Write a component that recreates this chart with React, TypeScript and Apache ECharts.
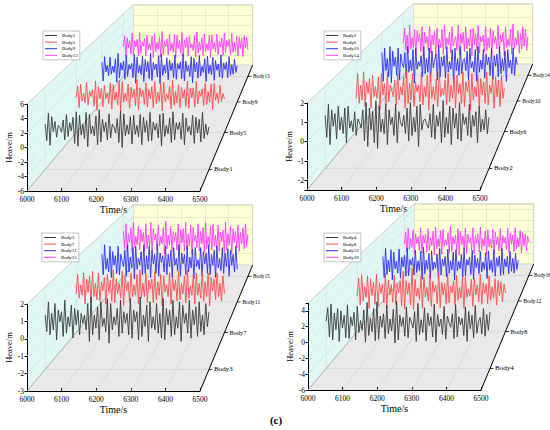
import React, { useEffect, useRef } from "react";
import * as echarts from "echarts";

// ---------- data ----------
const TIME_START = 6000;
const TIME_STEP = 5;
const TIME_TICKS = [6000, 6100, 6200, 6300, 6400, 6500];

const BODY1 = [
  0.6, -1.8, 2.2, -2.5, 1.7, -0.5, 1.0, -1.3, 0.4, 0.1,
  -0.6, 1.2, -1.7, 2.0, -1.2, 0.8, -0.4, 1.6, -2.2, 2.4,
  -2.6, 1.9, -1.0, 0.6, -1.5, 2.3, -2.7, 2.0, -0.8, 0.3,
  -1.1, 1.8, -2.4, 2.7, -2.0, 1.3, -0.5, 0.9, -1.7, 2.1,
  -1.4, 0.6, 0.2, -0.7, 1.4, -2.1, 2.5, -2.8, 2.1, -1.1,
  0.5, -0.9, 1.7, -2.3, 1.9, -0.9, 0.4, -1.3, 2.0, -2.4,
  1.6, -0.6, 1.1, -1.9, 2.3, -1.8, 0.9, -0.3, 0.7, -1.4,
  2.0, -2.6, 2.2, -1.2, 0.4, -0.8, 1.5, -2.1, 2.4, -1.7,
  0.8, -0.2, 0.9, -1.6, 2.2, -2.4, 1.5, -0.5, 0.3, -1.0,
  1.9, -2.2, 1.6, -0.7, 1.3, -2.0, 2.3, -1.5, 0.6, -1.0,
  0.2,
];
const BODY5 = [
  -0.4, 1.5, -2.0, 1.8, -0.9, 0.3, -1.2, 2.1, -1.6, 0.7,
  -0.2, 0.9, -1.8, 2.3, -2.4, 1.4, -0.6, 1.1, -1.9, 1.6,
  -0.5, 0.4, -1.3, 2.0, -2.2, 1.7, -0.8, 0.5, -1.6, 2.4,
  -2.6, 2.2, -1.1, 0.3, -0.9, 1.8, -2.1, 1.3, -0.4, 1.0,
  -1.7, 2.5, -2.3, 1.2, -0.3, 0.8, -1.5, 2.0, -1.9, 0.9,
  -0.6, 1.4, -2.0, 2.2, -1.3, 0.5, -1.0, 1.9, -2.5, 2.1,
  -1.0, 0.2, -0.7, 1.5, -2.2, 2.4, -1.6, 0.6, -1.2, 1.7,
  -2.0, 1.3, -0.5, 0.9, -1.8, 2.3, -2.1, 1.1, -0.4, 1.2,
  -1.9, 2.2, -1.4, 0.7, -0.2, 1.0, -1.7, 2.0, -1.5, 0.6,
  -1.1, 1.8, -2.3, 1.9, -0.8, 0.4, -1.3, 1.6, -1.0, 0.3,
  -0.6,
];
const BODY9 = [
  1.0, -2.3, 2.0, -0.7, 0.5, -1.4, 1.9, -1.1, 0.3, -0.8,
  1.6, -2.5, 2.6, -1.8, 0.9, -0.4, 1.2, -2.0, 2.3, -1.5,
  0.6, -0.2, 0.8, -1.7, 2.4, -2.7, 1.9, -0.9, 0.4, -1.2,
  2.1, -2.4, 1.5, -0.6, 1.1, -1.9, 2.6, -2.2, 1.0, -0.3,
  0.7, -1.6, 2.2, -2.8, 2.4, -1.3, 0.5, -0.9, 1.8, -2.1,
  1.4, -0.5, 0.9, -1.7, 2.3, -2.0, 0.8, -0.2, 1.1, -1.9,
  2.5, -2.3, 1.2, -0.6, 0.4, -1.5, 2.0, -2.6, 1.7, -0.7,
  1.0, -1.8, 2.2, -1.4, 0.3, -0.8, 1.6, -2.4, 2.1, -1.0,
  0.5, -1.2, 1.9, -2.2, 1.3, -0.4, 0.7, -1.6, 2.3, -1.8,
  0.9, -0.3, 1.0, -1.7, 2.0, -1.3, 0.6, -1.1, 1.5, -0.8,
  0.4,
];
const BODY13 = [
  -0.3, 1.8, -2.2, 1.4, -0.5, 0.9, -1.7, 2.3, -1.9, 0.8,
  -0.4, 1.1, -2.0, 2.4, -1.6, 0.6, -0.2, 1.3, -2.1, 1.9,
  -0.9, 0.3, -1.0, 1.7, -2.4, 2.2, -1.3, 0.5, -0.8, 1.6,
  -2.3, 2.6, -1.8, 0.7, -0.3, 1.2, -1.9, 2.1, -1.1, 0.4,
  -1.4, 2.0, -2.5, 1.9, -0.7, 0.9, -1.6, 2.4, -2.2, 1.0,
  -0.5, 1.5, -2.1, 1.7, -0.6, 0.2, -1.1, 1.8, -2.3, 2.5,
  -1.5, 0.6, -0.9, 1.4, -2.0, 2.2, -1.2, 0.3, -1.0, 1.9,
  -2.4, 2.0, -0.8, 0.5, -1.3, 2.1, -1.8, 0.7, -0.4, 1.3,
  -2.0, 2.3, -1.5, 0.9, -0.2, 1.1, -1.9, 2.2, -1.4, 0.5,
  -1.2, 1.7, -2.1, 1.6, -0.7, 1.4, -2.2, 1.8, -0.6, 1.5,
  -0.9,
];
const BODY2 = [
  0.4, -0.8, 1.0, -1.2, 0.7, -0.2, 0.5, -0.9, 0.9, -0.4,
  0.3, -0.6, 0.8, -1.1, 0.9, -0.3, 0.1, -0.5, 0.6, -0.7,
  0.2, 0.0, -0.3, 0.7, -1.0, 1.1, -1.3, 0.8, -0.4, 0.6,
  -1.1, 1.2, -1.4, 0.9, -0.5, 0.2, -0.6, 1.0, -1.2, 0.7,
  -0.1, 0.3, -0.7, 1.0, -1.1, 0.6, 0.0, -0.2, 0.4, -0.6,
  0.8, -1.0, 1.1, -0.7, 0.3, -0.5, 0.9, -1.3, 1.0, -0.4,
  0.1, 0.2, -0.1, -0.3, 0.5, -0.8, 1.0, -0.9, 0.4, -0.2,
  0.6, -1.1, 1.2, -0.8, 0.3, -0.6, 0.9, -1.2, 0.8, -0.3,
  0.5, -0.9, 1.1, -1.0, 0.5, -0.1, 0.3, -0.7, 1.0, -0.8,
  0.4, -0.2, 0.6, -1.1, 0.9, -0.5, 0.2, -0.4, 0.7, -0.6,
  0.3,
];
const BODY6 = [
  -0.5, 1.0, -0.8, 0.3, -0.6, 1.1, -1.0, 0.5, -0.2, 0.7,
  -1.1, 0.9, -0.4, 0.2, -0.5, 0.8, -1.2, 1.0, -0.3, 0.4,
  -0.9, 1.1, -0.7, 0.3, 0.0, -0.4, 0.6, -0.9, 1.0, -0.6,
  0.2, -0.3, 0.8, -1.1, 1.2, -0.8, 0.4, -0.6, 1.0, -1.0,
  0.5, -0.1, 0.3, -0.7, 1.1, -0.9, 0.2, -0.4, 0.9, -1.2,
  1.0, -0.5, 0.2, -0.6, 0.7, -1.0, 1.1, -0.4, 0.1, -0.3,
  0.6, -0.9, 1.0, -0.7, 0.3, -0.5, 0.8, -1.1, 0.9, -0.2,
  0.4, -0.8, 1.1, -1.0, 0.5, -0.1, 0.6, -1.2, 1.0, -0.6,
  0.2, -0.4, 0.9, -1.0, 0.7, -0.3, 0.5, -0.8, 1.1, -0.9,
  0.3, -0.2, 0.7, -1.1, 0.8, -0.4, 0.6, -1.0, 0.9, -0.5,
  0.1,
];
const BODY10 = [
  0.7, -1.2, 1.0, -0.5, 0.3, -0.9, 1.1, -1.3, 0.8, -0.2,
  0.4, -0.8, 1.0, -1.1, 0.6, 0.0, -0.3, 0.7, -1.0, 1.1,
  -0.6, 0.2, -0.5, 0.9, -1.3, 1.0, -0.4, 0.1, -0.2, 0.5,
  -0.9, 1.1, -0.7, 0.3, -0.6, 1.0, -1.2, 0.8, -0.3, 0.2,
  0.6, -1.1, 1.2, -0.9, 0.4, -0.2, 0.5, -1.0, 1.1, -0.6,
  0.1, -0.4, 0.9, -1.3, 1.0, -0.5, 0.3, -0.8, 1.1, -0.7,
  0.2, 0.3, -0.5, 0.8, -1.1, 1.0, -0.3, 0.1, -0.6, 0.9,
  -1.2, 1.1, -0.6, 0.2, -0.4, 0.9, -1.0, 0.6, -0.1, 0.4,
  -0.8, 1.0, -1.1, 0.5, -0.2, 0.6, -0.9, 1.1, -0.7, 0.3,
  -0.5, 0.8, -1.2, 0.9, -0.3, 0.2, -0.7, 1.0, -0.8, 0.4,
  -0.1,
];
const BODY14 = [
  -0.2, 0.9, -0.7, 0.4, -0.9, 1.1, -0.6, 0.2, -0.5, 0.8,
  -1.0, 0.7, -0.1, 0.5, -0.8, 1.0, -1.1, 0.6, -0.2, 0.3,
  -0.7, 1.0, -0.9, 0.4, -0.3, 0.7, -1.1, 0.9, -0.4, 0.1,
  -0.5, 0.8, -1.0, 1.1, -0.6, 0.2, -0.3, 0.6, -0.9, 1.0,
  -0.4, 0.0, 0.3, -0.7, 1.1, -1.0, 0.5, -0.2, 0.6, -0.8,
  1.0, -0.6, 0.2, -0.4, 0.8, -1.1, 0.9, -0.3, 0.5, -0.7,
  1.1, -0.9, 0.3, -0.1, 0.4, -0.8, 1.0, -0.7, 0.2, -0.5,
  0.9, -1.0, 0.7, -0.2, 0.3, -0.6, 1.1, -0.9, 0.4, -0.1,
  0.6, -1.1, 1.0, -0.5, 0.1, -0.4, 0.8, -1.0, 1.2, -0.6,
  0.2, -0.3, 0.7, -0.9, 0.5, -0.6, 1.0, -0.4, 0.8, -0.7,
  0.3,
];
const BODY3 = [
  0.3, -0.7, 1.1, -0.9, 0.4, -0.6, 1.0, -1.2, 0.6, -0.1,
  0.5, -1.0, 1.2, -0.8, 0.2, -0.4, 0.9, -1.1, 0.7, -0.3,
  0.6, -0.9, 0.4, -0.2, 0.3, -0.6, 1.0, -1.3, 1.4, -0.9,
  0.3, -0.5, 0.8, -1.2, 1.1, -0.4, 0.1, -0.7, 1.3, -1.4,
  1.0, -0.6, 0.2, -0.3, 0.7, -1.0, 1.2, -0.8, 0.5, -0.2,
  0.4, -0.9, 1.3, -1.1, 0.6, -0.1, 0.5, -1.2, 1.4, -1.0,
  0.3, -0.4, 0.9, -1.3, 1.1, -0.5, 0.2, -0.6, 1.0, -0.8,
  0.4, -1.1, 1.3, -1.2, 0.7, -0.3, 0.6, -1.0, 1.2, -0.9,
  0.2, -0.5, 1.1, -1.3, 0.9, -0.2, 0.4, -0.8, 1.2, -1.1,
  0.6, -0.3, 0.8, -1.0, 1.1, -0.7, 0.3, -0.9, 1.0, -0.4,
  0.5,
];
const BODY7 = [
  -0.4, 0.9, -0.7, 0.2, -0.5, 1.0, -1.1, 0.6, -0.3, 0.8,
  -1.0, 1.1, -0.6, 0.3, -0.8, 1.0, -0.9, 0.4, -0.2, 0.7,
  -1.1, 0.9, -0.3, 0.5, -0.9, 1.2, -1.0, 0.6, -0.4, 0.3,
  -0.7, 1.1, -1.2, 0.8, -0.2, 0.4, -0.9, 1.0, -0.6, 0.2,
  -0.5, 0.9, -1.1, 1.2, -0.7, 0.3, -0.6, 1.0, -1.0, 0.5,
  -0.1, 0.6, -1.0, 1.1, -0.8, 0.4, -0.5, 0.9, -1.2, 0.8,
  -0.3, 0.2, -0.6, 1.0, -1.1, 0.7, -0.2, 0.5, -0.9, 1.1,
  -0.8, 0.3, -0.4, 0.8, -1.0, 1.2, -0.7, 0.1, -0.5, 0.9,
  -1.1, 1.0, -0.5, 0.3, -0.7, 1.1, -0.9, 0.4, -0.6, 1.0,
  -1.2, 0.7, -0.2, 0.6, -0.8, 1.0, -0.6, 0.3, -0.9, 0.8,
  -0.4,
];
const BODY11 = [
  0.5, -1.0, 1.2, -0.6, 0.2, -0.8, 1.1, -1.2, 0.7, -0.3,
  0.4, -0.9, 1.1, -1.0, 0.5, 0.0, -0.4, 0.8, -1.1, 1.2,
  -0.8, 0.3, -0.5, 1.0, -1.3, 1.1, -0.6, 0.2, -0.3, 0.7,
  -1.0, 1.2, -0.9, 0.4, -0.6, 1.1, -1.2, 0.8, -0.2, 0.5,
  -0.9, 1.3, -1.1, 0.6, -0.1, 0.4, -0.8, 1.1, -1.0, 0.5,
  -0.4, 0.8, -1.2, 1.0, -0.3, 0.2, -0.7, 1.2, -1.1, 0.6,
  -0.2, 0.5, -1.0, 1.1, -0.8, 0.3, -0.5, 0.9, -1.3, 1.0,
  -0.4, 0.1, -0.6, 1.0, -1.1, 0.7, -0.2, 0.6, -0.9, 1.2,
  -1.0, 0.5, -0.3, 0.8, -1.2, 1.1, -0.5, 0.2, -0.7, 1.0,
  -0.9, 0.6, -0.4, 0.9, -1.1, 0.8, -0.3, 0.5, -0.8, 1.1,
  -0.6,
];
const BODY15 = [
  0.6, -0.8, 1.2, -1.0, 0.4, -0.3, 0.9, -1.1, 1.3, -0.7,
  0.2, -0.5, 1.0, -0.9, 0.7, -0.2, 0.5, -1.0, 1.2, -0.8,
  0.3, -0.6, 1.3, -1.1, 0.8, -0.1, 0.4, -0.9, 1.1, -0.6,
  0.2, -0.4, 0.9, -1.2, 1.4, -0.8, 0.3, -0.5, 1.0, -1.0,
  0.6, -0.2, 0.5, -0.9, 1.2, -1.1, 0.7, -0.3, 0.8, -1.0,
  1.3, -0.9, 0.4, -0.6, 1.1, -1.2, 0.9, -0.2, 0.3, -0.7,
  1.2, -1.0, 0.6, -0.4, 0.9, -1.1, 1.3, -0.8, 0.2, -0.5,
  1.0, -0.9, 1.2, -0.6, 0.3, -0.8, 1.1, -1.0, 0.5, -0.2,
  0.7, -1.1, 1.3, -0.9, 0.4, -0.5, 1.0, -1.2, 0.8, -0.3,
  0.6, -0.7, 1.1, -1.0, 0.5, -0.4, 0.9, -0.8, 1.2, -0.6,
  0.4,
];
const BODY4 = [
  0.3, 2.1, -1.8, 2.6, -2.2, 1.4, -0.8, 2.0, -2.4, 1.7,
  -0.6, 1.1, -1.9, 2.5, -2.0, 0.9, -0.3, 1.5, -2.2, 2.3,
  -1.2, 0.4, -0.9, 1.8, -2.5, 2.8, -1.6, 0.7, -1.1, 2.0,
  -2.3, 2.9, -2.1, 1.0, -0.5, 1.3, -2.0, 2.4, -1.4, 0.6,
  -1.0, 1.9, -2.6, 3.0, -2.2, 1.1, -0.4, 0.8, -1.7, 2.2,
  -1.9, 0.8, 0.2, -0.6, 1.6, -2.4, 2.7, -1.5, 0.5, -1.2,
  2.1, -2.3, 1.4, -0.3, 0.9, -1.8, 2.6, -2.5, 1.2, -0.4,
  0.6, -1.5, 2.3, -2.1, 1.0, 0.1, -0.5, 1.3, -2.0, 2.5,
  -1.8, 0.9, -0.2, 0.7, -1.6, 2.2, -2.4, 1.6, -0.7, 1.1,
  -1.9, 2.4, -1.3, 0.3, 0.8, -1.4, 2.0, -1.7, 1.2, -0.9,
  1.5,
];
const BODY8 = [
  -0.8, 1.9, -2.1, 2.4, -1.5, 0.6, -1.0, 2.2, -2.6, 1.8,
  -0.7, 1.3, -2.0, 2.5, -2.3, 1.2, -0.4, 1.0, -1.8, 2.6,
  -2.5, 1.6, -0.6, 0.9, -1.7, 2.3, -2.0, 1.1, -0.3, 1.4,
  -2.2, 2.9, -2.7, 1.5, -0.5, 1.2, -2.1, 3.3, -2.8, 1.7,
  -0.8, 0.4, -1.3, 2.2, -2.6, 2.0, -0.9, 0.5, -1.5, 2.4,
  -2.3, 1.4, -0.2, 0.8, -1.9, 2.7, -2.5, 1.3, -0.6, 1.1,
  -2.0, 2.6, -1.8, 0.7, -0.3, 1.5, -2.2, 2.3, -1.4, 0.5,
  -1.1, 2.0, -2.6, 2.1, -1.0, 0.2, -0.8, 1.7, -2.3, 1.9,
  -0.6, 0.9, -1.6, 2.4, -2.0, 1.2, -0.4, 1.0, -1.9, 2.2,
  -1.4, 0.6, -1.1, 1.8, -2.1, 1.5, -0.7, 1.3, -1.6, 1.0,
  -0.3,
];
const BODY12 = [
  1.2, -2.2, 2.5, -1.7, 0.6, -1.3, 2.3, -2.6, 1.9, -0.8,
  0.4, -1.5, 2.4, -2.3, 1.1, -0.5, 1.4, -2.0, 2.6, -1.9,
  0.7, -0.2, 1.0, -1.8, 2.2, -1.4, 0.5, -1.1, 2.0, -2.5,
  2.7, -1.6, 0.6, -0.9, 1.7, -2.4, 2.1, -1.0, 0.3, -0.7,
  1.6, -2.3, 2.5, -1.8, 0.8, -0.3, 1.2, -2.1, 2.4, -1.5,
  0.5, -1.0, 1.9, -2.6, 2.3, -1.1, 0.4, -0.8, 1.5, -2.2,
  2.6, -1.9, 0.7, -0.2, 1.1, -1.7, 2.2, -2.5, 1.4, -0.6,
  0.9, -1.6, 2.0, -1.3, 0.3, -0.9, 1.8, -2.4, 2.1, -1.0,
  0.6, -1.4, 2.3, -2.0, 1.0, -0.4, 1.3, -1.9, 2.5, -1.7,
  0.8, -0.5, 1.2, -1.6, 2.0, -1.2, 0.9, -1.5, 1.7, -0.9,
  0.6,
];
const BODY16 = [
  -0.5, 1.6, -2.0, 2.3, -1.4, 0.5, -1.1, 2.0, -2.2, 1.3,
  -0.4, 0.8, -1.7, 2.4, -2.1, 1.0, -0.3, 1.2, -1.9, 2.2,
  -1.6, 0.6, -0.8, 1.7, -2.4, 2.5, -1.3, 0.4, -1.0, 1.9,
  -2.3, 2.1, -0.9, 0.3, -0.7, 1.5, -2.0, 2.6, -1.8, 0.8,
  -0.5, 1.1, -1.6, 2.2, -2.5, 1.7, -0.6, 0.9, -1.4, 2.3,
  -2.1, 1.2, -0.2, 0.6, -1.5, 2.4, -2.2, 1.1, -0.4, 1.3,
  -1.9, 2.5, -1.6, 0.5, -0.9, 1.8, -2.3, 2.0, -1.0, 0.4,
  -1.2, 2.1, -2.4, 1.6, -0.6, 0.8, -1.7, 2.2, -1.9, 1.0,
  -0.3, 0.7, -1.5, 2.3, -2.0, 1.4, -0.5, 1.1, -1.8, 2.4,
  -1.3, 0.6, -1.0, 1.9, -2.1, 1.5, -0.8, 1.2, -1.6, 0.9,
  -0.2,
];

const BODY_VALUES: Record<string, number[]> = {
  Body1: BODY1, Body2: BODY2, Body3: BODY3, Body4: BODY4,
  Body5: BODY5, Body6: BODY6, Body7: BODY7, Body8: BODY8,
  Body9: BODY9, Body10: BODY10, Body11: BODY11, Body12: BODY12,
  Body13: BODY13, Body14: BODY14, Body15: BODY15, Body16: BODY16,
};

const PANEL_BODIES = [
  ["Body1", "Body5", "Body9", "Body13"],
  ["Body2", "Body6", "Body10", "Body14"],
  ["Body3", "Body7", "Body11", "Body15"],
  ["Body4", "Body8", "Body12", "Body16"],
];

const PANEL_Y: { min: number; max: number; interval?: number; ticks: number[] }[] = [
  { min: -6, max: 6, interval: 2, ticks: [-6, -4, -2, 0, 2, 4, 6] },
  { min: -2.5, max: 2, ticks: [-2, -1, 0, 1, 2] },
  { min: -3, max: 2, interval: 1, ticks: [-3, -2, -1, 0, 1, 2] },
  { min: -6, max: 5, interval: 2, ticks: [-6, -4, -2, 0, 2, 4] },
];

// relative depth (0 = front, 1 = back) of each body row
const DEPTH_POS = [0.125, 0.375, 0.625, 0.875];
const LINE_COLORS = ["#3a3a3a", "#ff4a4a", "#2b2bff", "#ff3cff"];

// ---------- layout ----------
const PANEL_LEFT = [27, 307, 27, 308];
const PANEL_BOTTOM = [191, 190, 391, 390];
const LEGEND_POS = [
  [43, 31],
  [324, 31],
  [42, 233],
  [324, 233],
];
const FRONT_W = 173;
const FRONT_H = 87;
const VP_DX = 344;
const VP_DY = -409;
const BACK_SCALE = 0.692;
const SERIF = '"Liberation Serif", "Times New Roman", serif';

function buildOption() {
  const grid: any[] = [];
  const xAxis: any[] = [];
  const yAxis: any[] = [];
  const series: any[] = [];
  const legend: any[] = [];
  const elements: any[] = [];
  const k = 1 / BACK_SCALE - 1;
  const scaleAt = (w: number) => 1 / (1 + k * w);
  const tMin = TIME_TICKS[0];
  const tMax = TIME_TICKS[TIME_TICKS.length - 1];

  const addLine = (a: number[], b: number[], stroke: string, lineWidth: number, z = 1) =>
    elements.push({
      type: "line",
      silent: true,
      z,
      shape: { x1: a[0], y1: a[1], x2: b[0], y2: b[1] },
      style: { stroke, lineWidth },
    });

  PANEL_BODIES.forEach((bodies, p) => {
    const L = PANEL_LEFT[p];
    const B = PANEL_BOTTOM[p];
    const T = B - FRONT_H;
    const R = L + FRONT_W;
    const vx = L + VP_DX;
    const vy = B + VP_DY;
    const proj = (x: number, y: number, w: number) => {
      const s = scaleAt(w);
      return [vx + s * (x - vx), vy + s * (y - vy)];
    };
    const rectAt = (w: number) => {
      const a = proj(L, T, w);
      const b = proj(R, B, w);
      return { left: a[0], top: a[1], width: b[0] - a[0], height: b[1] - a[1] };
    };
    const yc = PANEL_Y[p];
    const yBase: any = { type: "value", min: yc.min, max: yc.max };
    if (yc.interval) yBase.interval = yc.interval;
    else yBase.splitNumber = 5;
    const xBase: any = { type: "value", min: tMin, max: tMax, interval: 100 };
    const addGrid = (g: any, xa: any, ya: any) => {
      const gi = grid.length;
      grid.push(g);
      xAxis.push({ ...xBase, gridIndex: gi, ...xa });
      yAxis.push({ ...yBase, gridIndex: gi, ...ya });
      return gi;
    };
    const xPx = (t: number) => L + ((t - tMin) / (tMax - tMin)) * FRONT_W;
    const yPx = (v: number) => B - ((v - yc.min) / (yc.max - yc.min)) * FRONT_H;

    // floor and side wall
    elements.push({
      type: "polygon",
      silent: true,
      z: 0,
      shape: { points: [[L, B], [R, B], proj(R, B, 1), proj(L, B, 1)] },
      style: { fill: "#e9e9e9", stroke: "none" },
    });
    elements.push({
      type: "polygon",
      silent: true,
      z: 0,
      shape: { points: [[L, B], [L, T], proj(L, T, 1), proj(L, B, 1)] },
      style: { fill: "#e1f7f6", stroke: "none" },
    });
    // floor grid
    TIME_TICKS.slice(1, -1).forEach((t) => addLine([xPx(t), B], proj(xPx(t), B, 1), "#d2d2d2", 0.6));
    DEPTH_POS.forEach((w) => addLine(proj(L, B, w), proj(R, B, w), "#d2d2d2", 0.6));
    // side wall grid
    yc.ticks.forEach((v) => {
      if (v > yc.min && v < yc.max) addLine([L, yPx(v)], proj(L, yPx(v), 1), "#c9e3e2", 0.6);
    });
    DEPTH_POS.forEach((w) => addLine(proj(L, B, w), proj(L, T, w), "#c9e3e2", 0.6));
    // edges
    addLine([L, B], proj(L, B, 1), "#9a9a9a", 0.8);
    addLine([L, T], proj(L, T, 1), "#c0c0c0", 0.8);

    const hiddenParts = {
      axisLine: { show: false },
      axisTick: { show: false },
      axisLabel: { show: false },
      splitLine: { show: true, lineStyle: { color: "#dcdcc4", width: 0.6 } },
    };
    // back wall
    addGrid(
      { ...rectAt(1), show: true, backgroundColor: "#ffffd7", borderColor: "#c4c4c4", borderWidth: 0.8 },
      hiddenParts,
      hiddenParts
    );

    // body rows, back to front
    [3, 2, 1, 0].forEach((j) => {
      const name = bodies[j];
      const gi = addGrid(rectAt(DEPTH_POS[j]), { show: false }, { show: false });
      series.push({
        type: "line",
        name,
        xAxisIndex: gi,
        yAxisIndex: gi,
        data: BODY_VALUES[name].map((v, i) => [TIME_START + i * TIME_STEP, v]),
        symbol: "none",
        showSymbol: false,
        silent: true,
        z: 6 - j,
        lineStyle: { color: LINE_COLORS[j], width: 0.9 },
        itemStyle: { color: LINE_COLORS[j] },
      });
    });

    // front axes
    addGrid(
      { left: L, top: T, width: FRONT_W, height: FRONT_H },
      {
        name: "Time/s",
        nameLocation: "middle",
        nameGap: 8,
        nameTextStyle: { fontFamily: SERIF, fontSize: 10, color: "#000" },
        axisLine: { show: true, onZero: false, lineStyle: { color: "#000", width: 1 } },
        axisTick: { show: true, inside: true, length: 3, lineStyle: { color: "#000" } },
        axisLabel: {
          fontFamily: SERIF,
          fontSize: 7.5,
          color: "#000",
          margin: 4.5,
          formatter: (v: number) => String(v),
        },
        splitLine: { show: false },
      },
      {
        name: "Heave/m",
        nameLocation: "middle",
        nameGap: 13,
        nameTextStyle: { fontFamily: SERIF, fontSize: 8.5, color: "#000" },
        axisLine: { show: true, onZero: false, lineStyle: { color: "#000", width: 1 } },
        axisTick: { show: true, length: 2.5, lineStyle: { color: "#000" } },
        axisLabel: {
          fontFamily: SERIF,
          fontSize: 7.5,
          color: "#000",
          margin: 3,
          formatter: (v: number) => (yc.ticks.some((t) => Math.abs(t - v) < 1e-6) ? String(v) : ""),
        },
        splitLine: { show: false },
      }
    );

    // depth axis
    addLine([R, B], proj(R, B, 1), "#000", 1, 3);
    DEPTH_POS.forEach((w, j) => {
      const pt = proj(R, B, w);
      addLine(pt, [pt[0] + 3.5, pt[1]], "#000", 0.8, 3);
      elements.push({
        type: "text",
        silent: true,
        z: 3,
        x: pt[0] + 5,
        y: pt[1],
        style: {
          text: bodies[j],
          fontFamily: SERIF,
          fontSize: 7.4 * scaleAt(w),
          fill: "#000",
          align: "left",
          verticalAlign: "middle",
          textAlign: "left",
          textVerticalAlign: "middle",
        },
      });
    });

    legend.push({
      left: LEGEND_POS[p][0],
      top: LEGEND_POS[p][1],
      orient: "vertical",
      data: bodies,
      icon: "rect",
      itemWidth: 12,
      itemHeight: 1,
      itemGap: 1.6,
      padding: [2, 2, 2, 2],
      borderColor: "#a0a0a0",
      borderWidth: 0.6,
      backgroundColor: "#ffffff",
      selectedMode: false,
      z: 10,
      textStyle: { fontFamily: SERIF, fontSize: 5, color: "#000", lineHeight: 5 },
    });
  });

  elements.push({
    type: "text",
    silent: true,
    x: 276,
    y: 420,
    style: {
      text: "(c)",
      fontFamily: SERIF,
      fontSize: 11,
      fontWeight: "bold",
      fill: "#000",
      align: "center",
      verticalAlign: "middle",
      textAlign: "center",
      textVerticalAlign: "middle",
    },
  });

  return {
    animation: false,
    backgroundColor: "#ffffff",
    grid,
    xAxis,
    yAxis,
    series,
    legend,
    graphic: { elements },
  };
}

export default function App() {
  const ref = useRef<HTMLDivElement>(null);
  useEffect(() => {
    if (!ref.current) return;
    const chart = echarts.init(ref.current, null, { renderer: "svg" });
    chart.setOption(buildOption() as any);
    return () => chart.dispose();
  }, []);
  return (
    <div
      ref={ref}
      style={{ position: "fixed", left: 0, top: 0, width: 550, height: 430, background: "#fff" }}
    />
  );
}
